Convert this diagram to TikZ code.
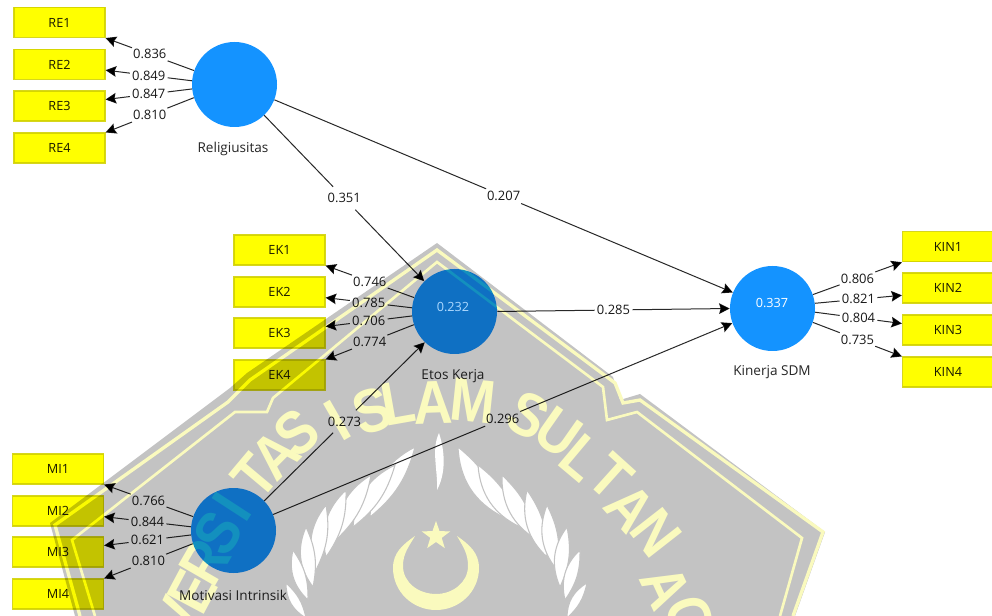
\documentclass[tikz,border=0pt]{standalone}
\usepackage{fontspec}
\setmainfont{Open Sans}
\newfontfamily\wmfont{Liberation Sans}
\usetikzlibrary{arrows.meta,calc}
\definecolor{lvblue}{RGB}{20,147,255}
\definecolor{mvyellow}{RGB}{255,255,0}
\definecolor{mvborder}{RGB}{214,214,30}
\definecolor{edgegray}{RGB}{40,40,40}
\definecolor{wmgray}{RGB}{195,195,195}
\definecolor{wmyellow}{RGB}{250,250,190}
\tikzset{
  lv/.style={circle,fill=lvblue,minimum size=85*0.75pt,inner sep=0pt},
  mv/.style={rectangle,fill=mvyellow,draw=mvborder,line width=0.8pt,minimum width=91*0.75pt,minimum height=30*0.75pt,inner sep=0pt,font=\fontsize{9.5}{11}\selectfont,text=black!90},
  lvname/.style={font=\fontsize{10.2}{12}\selectfont,text=black!85,inner sep=0pt},
  lvval/.style={font=\fontsize{9.5}{11}\selectfont,inner sep=0pt},
  edgeplain/.style={draw=edgegray,line width=0.75pt},
  edge/.style={edgeplain,-{Stealth[length=8pt,width=8pt,inset=1.2pt,fill=black]}},
  coef/.style={inner sep=0pt,text=black!90,font=\fontsize{9.75}{11}\selectfont},
  wmletter/.style={text=wmyellow,font=\wmfont\bfseries\fontsize{46}{46}\selectfont,inner sep=0pt,anchor=center,transform shape},
}
% from, to, value, node name, half gap (px) left open for the value
\newcommand{\coefpath}[5][19]{%
  \coordinate (m#5) at ($(#2)!.5!(#3)$);
  \draw[edgeplain] (#2) -- ($(m#5)!#1*0.75pt!(#2)$);
  \draw[edge] ($(m#5)!#1*0.75pt!(#3)$) -- (#3);
  \node[coef] (#5) at (m#5) {#4};
}
\newcommand{\wmleaves}{%
  \foreach \tx/\ty/\bx/\by in {458/447/503/517,478/465/520/527,502/475/537/540,527/490/547/557,547/505/557/570,567/527/560/587,580/550/565/600,587/583/567/618}{
    \filldraw[fill=white,draw=wmgray,line width=0.8pt] (\tx,\ty) to[bend right=30] (\bx,\by) to[bend right=18] (\tx,\ty) -- cycle;
  }%
}
\begin{document}
\begin{tikzpicture}[x=0.75pt,y=-0.75pt]
\useasboundingbox (0,0) rectangle (992,616);
\fill[white] (0,0) rectangle (992,616);
% watermark, lying under the diagram, which is multiplied onto it
\fill[wmgray] (50,523) -- (230,388) -- (247,373) -- (437,243) -- (613,377) -- (620,400) -- (640,394) -- (825,532) -- (795,616) -- (75,616) -- cycle;
\draw[wmyellow,line width=2.5pt,line join=miter] (80,616) -- (55,525) -- (228,402) -- (250,380) -- (437,250) -- (615,383) -- (623,403) -- (640,400) -- (823,532) -- (793,616);
\draw[wmyellow,line width=2pt,line join=miter] (95,616) -- (72,540) -- (235,412) -- (267,412) -- (273,398) -- (437,262) -- (603,387) -- (607,420) -- (637,412) -- (802,538) -- (780,616);
\foreach \c/\x/\y/\r [count=\i] in {
   V/178/618/65,E/192/592/62,R/205/562/60,S/218/533/58,I/232/507/57,T/255/476/50,A/275/455/45,S/297/433/40,
   I/337/420/30,S/372/411/18,L/398/403/10,A/433/403/2,M/473/401/-6,
   S/528/415/-28,U/558/433/-35,L/582/458/-40,T/611/477/-42,A/630/508/-48,N/656/533/-52,A/666/587/-65,G/690/618/-72}
  \node[wmletter,rotate=\r,xscale=.88] (wm\i) at (\x,\y) {\c};
\wmleaves
\begin{scope}[shift={(873,0)},x=-0.75pt]
  \wmleaves
\end{scope}
\fill[white] (439,433) .. controls (446,455) and (445,475) .. (437,490) .. controls (438,470) and (431,450) .. (439,433) -- cycle;
\fill[wmyellow] (415,536) to[out=215,in=90] (393,568) to[out=270,in=180] (436,610) to[out=0,in=270] (479,568) to[out=90,in=-35] (457,536) to[out=-60,in=90] (468,566) to[out=270,in=0] (436,594) to[out=180,in=270] (403,566) to[out=90,in=-120] (415,536) -- cycle;
\fill[wmyellow] plot[samples at={0,...,9}] ({436+(mod(\x,2)==0?15:6)*sin(36*\x)},{536-(mod(\x,2)==0?15:6)*cos(36*\x)}) -- cycle;
% diagram
\begin{scope}[blend mode=multiply]
\node[lv] (rel) at (234.5,84.5) {};
\node[lv] (eto) at (454.5,311.5) {};
\node[lv] (kin) at (772.5,308.5) {};
\node[lv] (mot) at (233.5,530.5) {};
\node[lvname] (nrel) at (233,149) {Religiusitas};
\node[lvname] (neto) at (453,376) {Etos Kerja};
\node[lvname] (nkin) at (772,372) {Kinerja SDM};
\node[lvname] (nmot) at (233,595) {Motivasi Intrinsik};
\foreach \n/\y [count=\i] in {RE1/22.5,RE2/64.5,RE3/106,RE4/148}
  \node[mv] (re\i) at (59.5,\y) {\n};
\foreach \n/\y [count=\i] in {EK1/250,EK2/292,EK3/333,EK4/375}
  \node[mv] (ek\i) at (279.5,\y) {\n};
\foreach \n/\y [count=\i] in {MI1/469,MI2/511,MI3/552,MI4/594}
  \node[mv] (mi\i) at (58,\y) {\n};
\foreach \n/\y [count=\i] in {KIN1/246.7,KIN2/288,KIN3/330,KIN4/372}
  \node[mv] (ki\i) at (948,\y) {\n};
\coefpath{rel.161}{re1.south east}{0.836}{ra}
\coefpath{rel.175}{re2.-7.4}{0.849}{rb}
\coefpath{rel.186}{re3.8.6}{0.847}{rc}
\coefpath{rel.198}{re4.north east}{0.810}{rd}
\coefpath{eto.161}{ek1.south east}{0.746}{ea}
\coefpath{eto.175}{ek2.-7.4}{0.785}{eb}
\coefpath{eto.186}{ek3.8.6}{0.706}{ec}
\coefpath{eto.198}{ek4.north east}{0.774}{ed}
\coefpath{mot.161}{mi1.south east}{0.766}{ma}
\coefpath{mot.175}{mi2.-7.4}{0.844}{mb}
\coefpath{mot.186}{mi3.8.6}{0.621}{mc}
\coefpath{mot.198}{mi4.north east}{0.810}{md}
\coefpath{kin.19}{ki1.south west}{0.806}{ka}
\coefpath{kin.7}{ki2.189.5}{0.821}{kb}
\coefpath{kin.-5}{ki3.172.6}{0.804}{kc}
\coefpath{kin.-19}{ki4.north west}{0.735}{kd}
\coefpath[16]{rel.-46}{eto.135}{0.351}{sa}
\coefpath{rel.-21}{kin.158.6}{0.207}{sb}
\coefpath{eto.0}{kin.180}{0.285}{sc}
\coefpath[16]{mot.44}{eto.226}{0.273}{sd}
\coefpath{mot.22.7}{kin.200}{0.296}{se}
\end{scope}
\node[lvval,text=lvblue!35!white] (veto) at (453,307) {0.232};
\node[lvval,text=white] (vkin) at (772,303) {0.337};
\end{tikzpicture}
\end{document}
